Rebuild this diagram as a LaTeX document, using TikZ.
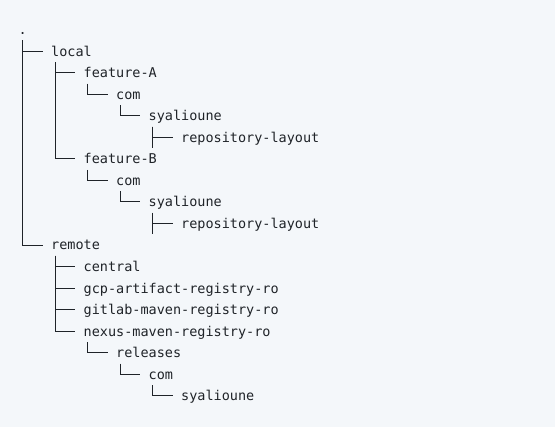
\documentclass[tikz,border=0pt]{standalone}
\usepackage{fontspec}
\setmonofont{DejaVu Sans Mono}
\definecolor{codebg}{HTML}{F4F7FA}
\definecolor{codefg}{HTML}{1F2328}
\tikzset{
  entry/.style={anchor=west, inner sep=0pt, text height=15.75pt, text depth=5.8pt,
    font=\ttfamily\fontsize{13.5}{16}\selectfont, text=codefg},
  branch/.style={draw=codefg, line width=0.9pt}
}

\begin{document}
\begin{tikzpicture}[x=1pt, y=-1pt]
    \fill [codebg] (0, 0) rectangle (555, 427);
    \useasboundingbox (0, 0) rectangle (555, 427);

    % Entries
    \node [entry] (root)     at (18.5, 29.5)   {.};
    \node [entry] (local)    at (51, 51.05)    {local};
    \node [entry] (featA)    at (83.5, 72.6)   {feature-A};
    \node [entry] (comA)     at (116, 94.15)   {com};
    \node [entry] (syalA)    at (148.5, 115.7) {syalioune};
    \node [entry] (repoA)    at (181, 137.25)  {repository-layout};
    \node [entry] (featB)    at (83.5, 158.8)  {feature-B};
    \node [entry] (comB)     at (116, 180.35)  {com};
    \node [entry] (syalB)    at (148.5, 201.9) {syalioune};
    \node [entry] (repoB)    at (181, 223.45)  {repository-layout};
    \node [entry] (remote)   at (51, 245)      {remote};
    \node [entry] (central)  at (83.5, 266.55) {central};
    \node [entry] (gcp)      at (83.5, 288.1)  {gcp-artifact-registry-ro};
    \node [entry] (gitlab)   at (83.5, 309.65) {gitlab-maven-registry-ro};
    \node [entry] (nexus)    at (83.5, 331.2)  {nexus-maven-registry-ro};
    \node [entry] (releases) at (116, 352.75)  {releases};
    \node [entry] (comR)     at (148.5, 374.3) {com};
    \node [entry] (syalR)    at (181, 395.85)  {syalioune};

    % Branches
    \draw [branch] ([xshift=4.1pt]root.south west) |- ([xshift=-8.1pt]local.west);
    \draw [branch] ([xshift=4.1pt]root.south west) |- ([xshift=-8.1pt]remote.west);
    \draw [branch] ([xshift=4.1pt]local.south west) |- ([xshift=-8.1pt]featA.west);
    \draw [branch] ([xshift=4.1pt]local.south west) |- ([xshift=-8.1pt]featB.west);
    \draw [branch] ([xshift=4.1pt]featA.south west) |- ([xshift=-8.1pt]comA.west);
    \draw [branch] ([xshift=4.1pt]comA.south west) |- ([xshift=-8.1pt]syalA.west);
    \draw [branch] ([xshift=4.1pt]syalA.south west) |- ([xshift=-8.1pt]repoA.west);
    \draw [branch] ([xshift=4.1pt]syalA.south west) -- ([xshift=4.1pt]syalA.south west |- repoA.south);
    \draw [branch] ([xshift=4.1pt]featB.south west) |- ([xshift=-8.1pt]comB.west);
    \draw [branch] ([xshift=4.1pt]comB.south west) |- ([xshift=-8.1pt]syalB.west);
    \draw [branch] ([xshift=4.1pt]syalB.south west) |- ([xshift=-8.1pt]repoB.west);
    \draw [branch] ([xshift=4.1pt]syalB.south west) -- ([xshift=4.1pt]syalB.south west |- repoB.south);
    \draw [branch] ([xshift=4.1pt]remote.south west) |- ([xshift=-8.1pt]central.west);
    \draw [branch] ([xshift=4.1pt]remote.south west) |- ([xshift=-8.1pt]gcp.west);
    \draw [branch] ([xshift=4.1pt]remote.south west) |- ([xshift=-8.1pt]gitlab.west);
    \draw [branch] ([xshift=4.1pt]remote.south west) |- ([xshift=-8.1pt]nexus.west);
    \draw [branch] ([xshift=4.1pt]nexus.south west) |- ([xshift=-8.1pt]releases.west);
    \draw [branch] ([xshift=4.1pt]releases.south west) |- ([xshift=-8.1pt]comR.west);
    \draw [branch] ([xshift=4.1pt]comR.south west) |- ([xshift=-8.1pt]syalR.west);
\end{tikzpicture}
\end{document}
